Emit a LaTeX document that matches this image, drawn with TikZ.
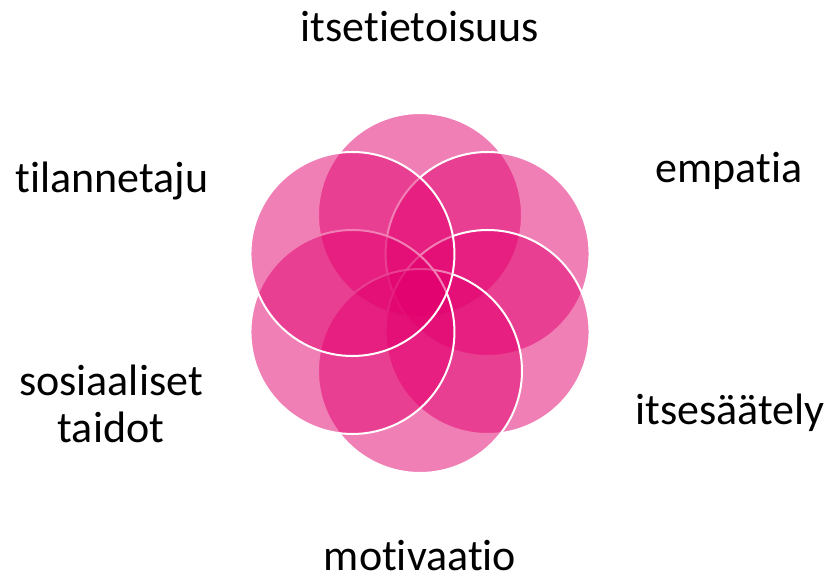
\documentclass[tikz,border=0pt]{standalone}
\usepackage{fontspec}
\setmainfont{Carlito}[Ligatures=NoCommon,RawFeature=-liga]
\usetikzlibrary{calc}
\definecolor{petal}{RGB}{226,0,110}
\begin{document}
\begin{tikzpicture}[x=1pt,y=1pt,
  petalc/.style={circle, minimum size=204pt, inner sep=0pt, fill=petal, fill opacity=0.5, draw=white, draw opacity=1, line width=2pt},
  lbl/.style={font=\fontsize{44}{47}\selectfont, text=black, inner sep=0pt, anchor=base, align=center}]
\useasboundingbox (0,0) rectangle (831,578);
\coordinate (c) at (420,285);
\foreach \a/\n in {90/T,30/UR,-30/LR,-90/B,-150/LL,150/UL}{
  \node[petalc] (\n) at ($(c)+(\a:78)$) {};
}
\node[lbl] (l1) at (420,536) {itsetietoisuus};
\node[lbl] (l2) at (729,395) {empatia};
\node[lbl] (l3) at (730,153) {itsesäätely};
\node[lbl, text depth=0pt] (l4) at (420,7) {motivaatio};
\node[lbl] (l5) at (112,385) {tilannetaju};
\node[lbl] (l6) at (111,135) {sosiaaliset\\taidot};
\end{tikzpicture}
\end{document}
